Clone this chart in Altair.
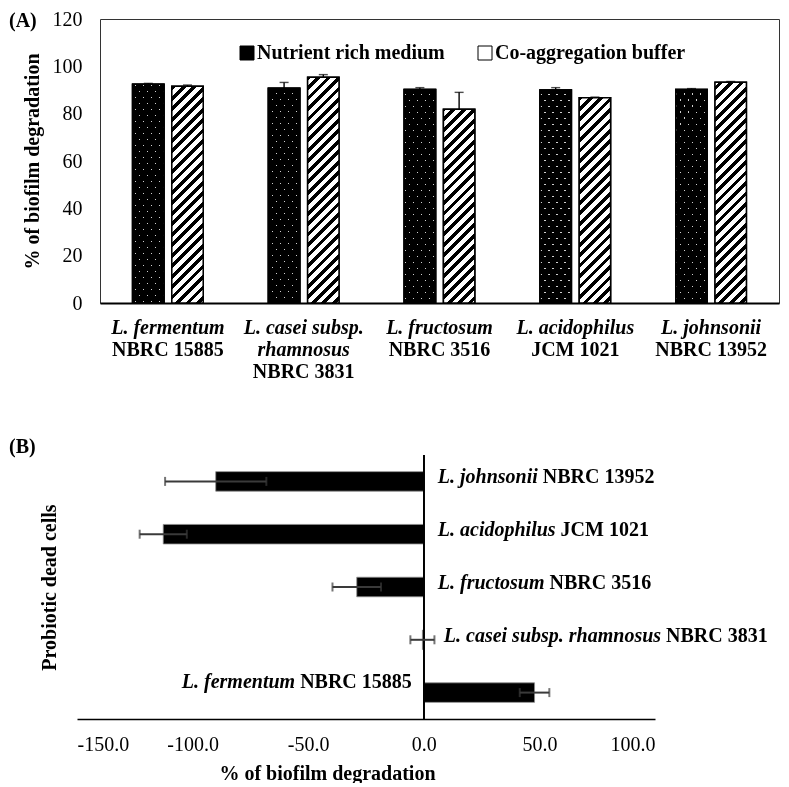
import math
import altair as alt
import pandas as pd

# ---------------- data ----------------
top_labels = [
    "L. fermentum\nNBRC 15885",
    "L. casei subsp.\nrhamnosus\nNBRC 3831",
    "L. fructosum\nNBRC 3516",
    "L. acidophilus\nJCM 1021",
    "L. johnsonii\nNBRC 13952",
]
media = ["Nutrient rich medium", "Co-aggregation buffer"]
nutrient_mean = [92.4, 90.7, 90.2, 90.0, 90.2]
nutrient_err = [0.4, 2.5, 0.8, 1.0, 0.4]
buffer_mean = [91.6, 95.4, 81.9, 86.7, 93.3]
buffer_err = [0.5, 1.1, 7.1, 0.3, 0.3]
y_ticks_top = [0, 20, 40, 60, 80, 100, 120]

dead_species = ["L. johnsonii", "L. acidophilus", "L. fructosum",
                "L. casei subsp. rhamnosus", "L. fermentum"]
dead_strain = ["NBRC 13952", "JCM 1021", "NBRC 3516", "NBRC 3831", "NBRC 15885"]
dead_mean = [-90.0, -112.7, -29.0, -0.6, 47.9]
dead_sd = [21.9, 10.2, 10.5, 5.2, 6.4]
x_ticks_bottom = [-150, -100, -50, 0, 50, 100]

# ---------------- style / layout ----------------
SERIF = "Liberation Serif"
FS = 20
TOP_W, TOP_H = 679, 284
BOT_W, BOT_H = 578, 264
SHIFT = 23       # bottom plot starts this far left of the top plot
PI, PO, SUB_PI = 0.48, 0.24, 0.2
step = TOP_W / (len(top_labels) - PI + 2 * PO)
band = step * (1 - PI)
bar_w = band / (2 - SUB_PI) * (1 - SUB_PI)
ypx = TOP_H / 120.0
LP = 14          # label padding of the top x axis
LH = 22          # line height of the top x labels

# Times / Liberation Serif advance widths (per 1000 em)
BI = {' ': 250, '.': 250, 'L': 611, 'a': 500, 'b': 500, 'c': 444, 'd': 500, 'e': 444,
      'f': 333, 'h': 556, 'i': 278, 'j': 278, 'l': 278, 'm': 778, 'n': 556, 'o': 500,
      'p': 500, 'r': 389, 's': 389, 't': 278, 'u': 556}
BOLD = {' ': 250, 'N': 722, 'B': 667, 'R': 722, 'C': 722, 'J': 500, 'M': 944}


def tw(s, table):
    return sum(table.get(ch, 500) for ch in s) * FS / 1000.0


def stripe_fill(W, H, d, period, lw, line_color, bg_color, phase=None):
    L = math.hypot(d[0], d[1])
    nx, ny = d[1] / L, -d[0] / L
    corners = [(0, 0), (W, 0), (0, H), (W, H)]
    proj = [nx * x + ny * y for x, y in corners]
    smin, smax = min(proj), max(proj)
    E = smax - smin
    cx, cy = corners[proj.index(smin)]
    k = E / (nx * nx * W * W + ny * ny * H * H)
    x1, y1 = cx / W, cy / H
    x2, y2 = x1 + k * nx * W, y1 + k * ny * H
    stops = [{"offset": 0, "color": bg_color}]
    s = period / 2 if phase is None else phase
    while s - lw / 2 < E:
        a = max(0.0, (s - lw / 2) / E)
        b = min(1.0, (s + lw / 2) / E)
        if b > 0:
            stops += [{"offset": round(a, 5), "color": bg_color},
                      {"offset": round(a, 5), "color": line_color},
                      {"offset": round(b, 5), "color": line_color},
                      {"offset": round(b, 5), "color": bg_color}]
        s += period
    stops.append({"offset": 1, "color": bg_color})
    return {"gradient": "linear", "x1": round(x1, 5), "y1": round(y1, 5),
            "x2": round(x2, 5), "y2": round(y2, 5), "stops": stops}


# ---------------- top chart (A) ----------------
rows = []
for i, lab in enumerate(top_labels):
    rows.append({"label": lab, "medium": media[0], "mean": nutrient_mean[i], "err": nutrient_err[i]})
    rows.append({"label": lab, "medium": media[1], "mean": buffer_mean[i], "err": buffer_err[i]})
top_df = pd.DataFrame(rows)

top_base = alt.Chart(top_df).transform_calculate(hi="datum.mean + datum.err")

italic_axis = alt.Axis(
    orient="bottom", labelExpr="slice(split(datum.label, '\\n'), 0, -1)",
    labelFont=SERIF, labelFontSize=FS, labelFontStyle="italic", labelFontWeight="bold",
    labelLineHeight=LH, labelPadding=LP, labelAngle=0, labelOverlap=False, labelBound=False,
    labelLimit=400, labelColor="black", ticks=False, domain=True, domainColor="black",
    domainWidth=2, title=None, grid=False)
bold_axis = alt.Axis(
    orient="bottom", labelExpr="peek(split(datum.label, '\\n'))",
    labelFont=SERIF, labelFontSize=FS, labelFontWeight="bold",
    labelPadding={"condition": {"test": "indexof(datum.label, 'casei') >= 0", "value": LP + 2 * LH},
                  "value": LP + LH},
    labelAngle=0, labelOverlap=False, labelBound=False,
    labelLimit=400, labelColor="black", ticks=False, domain=False, title=None, grid=False)
y_axis_top = alt.Axis(values=y_ticks_top, labelFont=SERIF, labelFontSize=FS, labelColor="black",
                      ticks=False, domain=False, grid=False, labelPadding=18,
                      title="% of biofilm degradation", titleFont=SERIF, titleFontSize=FS,
                      titleFontWeight="bold", titleColor="black", titlePadding=10)

x_scale_top = alt.Scale(domain=top_labels, paddingInner=PI, paddingOuter=PO)
xo_enc = alt.XOffset("medium:N", scale=alt.Scale(domain=media, paddingInner=SUB_PI, paddingOuter=0))
y_scale_top = alt.Scale(domain=[0, 120], nice=False)


def xt(axis):
    return alt.X("label:N", sort=top_labels, scale=x_scale_top, axis=axis, title=None)


def yt(field):
    return alt.Y(field, scale=y_scale_top, axis=None, title=None)


base_bars = top_base.mark_bar(stroke="black", strokeWidth=1.5).encode(
    x=xt(italic_axis), xOffset=xo_enc,
    y=alt.Y("mean:Q", scale=y_scale_top, axis=y_axis_top, title="% of biofilm degradation"),
    fill=alt.Fill("medium:N", scale=alt.Scale(domain=media, range=["black", "white"]),
                  legend=alt.Legend(orient="none", legendX=137, legendY=24, direction="horizontal",
                                    title=None, symbolType="square", symbolSize=196,
                                    symbolStrokeColor="black", symbolStrokeWidth=1,
                                    labelFont=SERIF, labelFontSize=FS, labelFontWeight="bold",
                                    labelColor="black", labelOffset=0, columnPadding=30,
                                    padding=0, labelLimit=400)))

overlays = []
for i, lab in enumerate(top_labels):
    Hn = nutrient_mean[i] * ypx
    Hb = buffer_mean[i] * ypx
    sel_b = (alt.datum.label == lab) & (alt.datum.medium == media[1])
    sel_n = (alt.datum.label == lab) & (alt.datum.medium == media[0])
    overlays.append(top_base.transform_filter(sel_b).mark_bar(
        fill=stripe_fill(bar_w, Hb, (1, -1), 7.4, 3.4, "black", "white"),
        stroke="black", strokeWidth=1.5).encode(x=xt(None), xOffset=xo_enc, y=yt("mean:Q")))
    overlays.append(top_base.transform_filter(sel_n).mark_bar(
        fill=stripe_fill(bar_w, Hn, (4, 6), 6.66, 1.1, "#e6e6e6", "black"),
        stroke="black", strokeWidth=1.5).encode(x=xt(None), xOffset=xo_enc, y=yt("mean:Q")))
    overlays.append(top_base.transform_filter(sel_n).mark_bar(
        fill=stripe_fill(bar_w, Hn, (-4, 6), 6.66, 1.1, "#e6e6e6", "black"),
        stroke="black", strokeWidth=1.5, blend="multiply").encode(
        x=xt(None), xOffset=xo_enc, y=yt("mean:Q")))

err_rule = top_base.mark_rule(color="black", strokeWidth=1.4).encode(
    x=xt(bold_axis), xOffset=xo_enc, y=yt("mean:Q"), y2="hi:Q")
err_cap = top_base.mark_tick(color="black", thickness=1.4, size=9).encode(
    x=xt(None), xOffset=xo_enc, y=yt("hi:Q"))

top = alt.layer(base_bars, *overlays, err_rule, err_cap).resolve_axis(
    x="independent", y="independent").properties(
    width=TOP_W, height=TOP_H,
    view=alt.ViewBackground(stroke="#333333", strokeWidth=1),
    title=alt.Title("(A)", anchor="start", frame="group", dx=-91, offset=-22, font=SERIF,
                    fontSize=FS, fontWeight="bold", color="black"))

# ---------------- bottom chart (B) ----------------
bot_df = pd.DataFrame({"species": dead_species, "strain": dead_strain,
                       "mean": dead_mean, "sd": dead_sd})
bbase = alt.Chart(bot_df).transform_calculate(lo="datum.mean - datum.sd",
                                              hi="datum.mean + datum.sd")
xs = alt.Scale(domain=[-150, 100], nice=False, zero=False, range=[-SHIFT, BOT_W - SHIFT])
ys = alt.Scale(domain=dead_species, paddingInner=0.63, paddingOuter=0.315)
x_axis_b = alt.Axis(values=x_ticks_bottom,
                    labelExpr="(datum.value < 0 ? '-' : '') + format(abs(datum.value), '.1f')",
                    ticks=False, grid=False,
                    domainColor="black", domainWidth=1.5, labelFont=SERIF, labelFontSize=FS,
                    labelColor="black", labelPadding=15, title="% of biofilm degradation",
                    titleFont=SERIF, titleFontSize=FS, titleFontWeight="bold", titleColor="black",
                    titleX=250 - SHIFT, titlePadding=9)
y_axis_b = alt.Axis(labels=False, ticks=False, domain=False, grid=False,
                    title="Probiotic dead cells", titleFont=SERIF, titleFontSize=FS,
                    titleFontWeight="bold", titleColor="black", titlePadding=18 + SHIFT)


def xb(field):
    return alt.X(field, scale=xs, axis=None)


def yb():
    return alt.Y("species:N", sort=dead_species, scale=ys, axis=None)


b_bars = bbase.mark_bar(color="black", stroke="#8c8c8c", strokeWidth=0.8).encode(
    x=alt.X("mean:Q", scale=xs, axis=x_axis_b, title="% of biofilm degradation"),
    x2=alt.datum(0),
    y=alt.Y("species:N", sort=dead_species, scale=ys, axis=y_axis_b, title="Probiotic dead cells"))
zero_rule = bbase.mark_rule(color="black", strokeWidth=1.5).encode(
    x=alt.X(datum=0, scale=xs, axis=None))
e_rule = bbase.mark_rule(color="#3a3a3a", strokeWidth=2).encode(
    x=xb("lo:Q"), x2="hi:Q", y=yb())
e_lo = bbase.mark_tick(color="#3a3a3a", thickness=2, size=9).encode(x=xb("lo:Q"), y=yb())
e_hi = bbase.mark_tick(color="#3a3a3a", thickness=2, size=9).encode(x=xb("hi:Q"), y=yb())

label_layers = []
for i, sp in enumerate(dead_species):
    strain = dead_strain[i]
    filt = alt.datum.species == sp
    if dead_mean[i] > 0:
        dx_b = -12
        dx_i = dx_b - tw(strain, BOLD) - tw(" ", BOLD)
        align = "right"
        dy = -11
    else:
        dx_i = 20 if "casei" in sp else 14
        dx_b = dx_i + tw(sp + " ", BI)
        align = "left"
        dy = -4
    label_layers.append(bbase.transform_filter(filt).mark_text(
        align=align, baseline="middle", dx=dx_i, dy=dy, font=SERIF, fontSize=FS,
        fontWeight="bold", fontStyle="italic", color="black").encode(
        x=alt.X(datum=0, scale=xs, axis=None), y=yb(), text="species:N"))
    label_layers.append(bbase.transform_filter(filt).mark_text(
        align=align, baseline="middle", dx=dx_b, dy=dy, font=SERIF, fontSize=FS,
        fontWeight="bold", color="black").encode(
        x=alt.X(datum=0, scale=xs, axis=None), y=yb(), text="strain:N"))

bottom = alt.layer(b_bars, zero_rule, e_rule, e_lo, e_hi, *label_layers).resolve_axis(
    x="independent", y="independent").properties(
    width=BOT_W - SHIFT, height=BOT_H,
    view=alt.ViewBackground(stroke="transparent", strokeWidth=0),
    title=alt.Title("(B)", anchor="start", frame="group", dx=-68 - SHIFT, dy=3, font=SERIF,
                    fontSize=FS, fontWeight="bold", color="black", offset=0))

chart = alt.vconcat(top, bottom, spacing=55).properties(
    padding=0).configure_view(stroke="transparent", strokeWidth=0).configure(font=SERIF)

chart.save("out.html", embed_options={"renderer": "svg", "actions": False})
